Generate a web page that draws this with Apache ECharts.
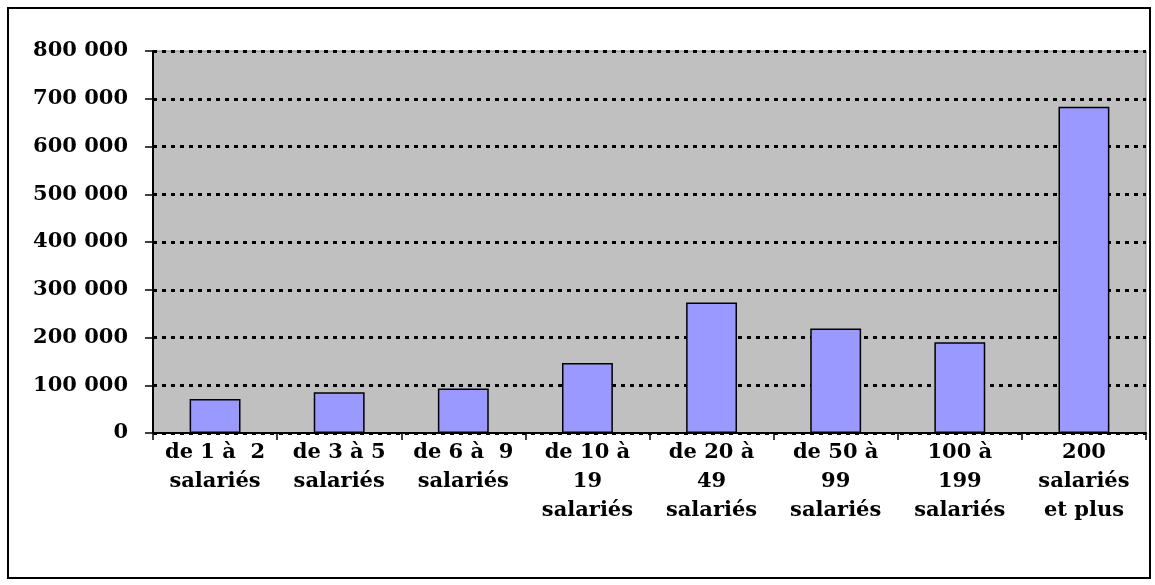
<!DOCTYPE html>
<html>
<head>
<meta charset="utf-8">
<script src="https://cdn.jsdelivr.net/npm/echarts@6/dist/echarts.min.js"></script>
<style>
  html, body { margin: 0; padding: 0; background: #fff; }
  #main { width: 1155px; height: 585px; }
</style>
</head>
<body>
<div id="main"></div>
<script>
// categories (two or three lines each, as in the picture)
var tranches = [
  'de 1 à  2\nsalariés',
  'de 3 à 5\nsalariés',
  'de 6 à  9\nsalariés',
  'de 10 à\n19\nsalariés',
  'de 20 à\n49\nsalariés',
  'de 50 à\n99\nsalariés',
  '100 à\n199\nsalariés',
  '200\nsalariés\net plus'
];
var effectifs = [71000, 85500, 93000, 146500, 273500, 219000, 190000, 683000];
var yMax = 800000;
var yStep = 100000;

function formatMilliers(v) {
  return String(v).replace(/\B(?=(\d{3})+(?!\d))/g, ' ');
}

var police = 'DejaVu Serif';

var option = {
  animation: false,
  grid: {
    left: 153,
    top: 51,
    right: 9,
    bottom: 152,
    show: true,
    backgroundColor: '#c0c0c0',
    borderColor: '#808080',
    borderWidth: 1
  },
  graphic: [{
    type: 'rect',
    shape: { x: 8, y: 8, width: 1142, height: 570 },
    style: { fill: 'none', stroke: '#000', lineWidth: 2 },
    silent: true
  }],
  xAxis: {
    type: 'category',
    data: tranches,
    axisLine: { lineStyle: { color: '#000', width: 2 } },
    axisTick: { show: true, length: 7, lineStyle: { color: '#000', width: 1.5 } },
    axisLabel: {
      interval: 0,
      margin: 5,
      color: '#000',
      fontFamily: police,
      fontWeight: 'bold',
      fontSize: 21,
      lineHeight: 29
    }
  },
  yAxis: {
    type: 'value',
    min: 0,
    max: yMax,
    interval: yStep,
    axisLine: { show: true, lineStyle: { color: '#000', width: 2 } },
    axisTick: { show: true, length: 8, lineStyle: { color: '#000', width: 1.5 } },
    axisLabel: {
      margin: 25,
      color: '#000',
      fontFamily: police,
      fontWeight: 'bold',
      fontSize: 21,
      formatter: formatMilliers
    },
    splitLine: {
      show: true,
      lineStyle: { color: '#000', width: 3, type: [4, 5] }
    }
  },
  series: [{
    type: 'bar',
    data: effectifs,
    barWidth: '41%',
    itemStyle: { color: '#9999ff', borderColor: '#000', borderWidth: 1.5 }
  }]
};

var chart = echarts.init(document.getElementById('main'));
chart.setOption(option);
</script>
</body>
</html>
